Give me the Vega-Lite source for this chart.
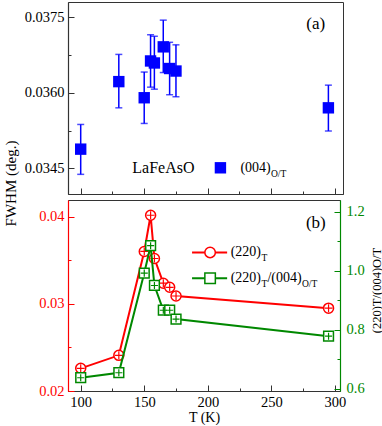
{
  "$schema": "https://vega.github.io/schema/vega-lite/v6.json",
  "padding": {"left": 2, "top": 1, "right": 0, "bottom": 0},
  "spacing": 6,
  "bounds": "flush",
  "background": "white",
  "config": {
    "font": "Liberation Serif",
    "view": {"stroke": "#333333", "strokeWidth": 1},
    "axis": {"grid": false, "labelFont": "Liberation Serif", "titleFont": "Liberation Serif", "labelFontSize": 14.5, "titleFontSize": 15, "titleFontWeight": "normal", "labelColor": "#000000", "titleColor": "#000000", "domainColor": "#333333", "tickColor": "#333333", "tickWidth": 1, "domainWidth": 1.2, "labelOverlap": false, "labelBound": false, "labelFlush": false},
    "text": {"font": "Liberation Serif"}
  },
  "datasets": {
    "top": [
      {"T": 100, "v": 0.03488, "lo": 0.03438, "hi": 0.03537},
      {"T": 130, "v": 0.03622, "lo": 0.03570, "hi": 0.03676},
      {"T": 150, "v": 0.03590, "lo": 0.03539, "hi": 0.03641},
      {"T": 155, "v": 0.03663, "lo": 0.03611, "hi": 0.03715},
      {"T": 158, "v": 0.03659, "lo": 0.03607, "hi": 0.03712},
      {"T": 165, "v": 0.03691, "lo": 0.03640, "hi": 0.03744},
      {"T": 170, "v": 0.03648, "lo": 0.03596, "hi": 0.03700},
      {"T": 175, "v": 0.03643, "lo": 0.03592, "hi": 0.03695},
      {"T": 295, "v": 0.03570, "lo": 0.03524, "hi": 0.03615}
    ],
    "red": [
      {"T": 100, "v": 0.02260},
      {"T": 130, "v": 0.02409},
      {"T": 150, "v": 0.03600},
      {"T": 155, "v": 0.04015},
      {"T": 158, "v": 0.03519},
      {"T": 165, "v": 0.03236},
      {"T": 170, "v": 0.03189},
      {"T": 175, "v": 0.03089},
      {"T": 295, "v": 0.02950}
    ],
    "green": [
      {"T": 100, "r": 0.637},
      {"T": 130, "r": 0.654},
      {"T": 150, "r": 0.992},
      {"T": 155, "r": 1.085},
      {"T": 158, "r": 0.950},
      {"T": 165, "r": 0.866},
      {"T": 170, "r": 0.866},
      {"T": 175, "r": 0.836},
      {"T": 295, "r": 0.778}
    ],
    "legA": [{"T": 210, "v": 0.03451, "name": "LaFeAsO", "t1": "(004)", "s1": "O/T"}],
    "tagA": [{"T": 285, "v": 0.03737, "label": "(a)"}],
    "legB": [
      {"series": "a", "x1": 187.6, "x2": 215.2, "xm": 201.8, "v": 0.03589, "t1": "(220)", "s1": "T", "t2": "", "s2": ""},
      {"series": "b", "x1": 187.6, "x2": 215.2, "xm": 201.8, "v": 0.03292, "t1": "(220)", "s1": "T", "t2": "/(004)", "s2": "O/T"}
    ],
    "tagB": [{"T": 285, "v": 0.0393, "label": "(b)"}]
  },
  "vconcat": [
    {
      "width": 275,
      "height": 192,
      "encoding": {
        "x": {"field": "T", "type": "quantitative", "scale": {"domain": [90, 306.5], "nice": false, "zero": false},
              "axis": {"title": null, "values": [100, 125, 150, 175, 200, 225, 250, 275, 300], "labels": false,
                       "tickSize": {"condition": {"test": "datum.value % 50 === 0", "value": -6}, "value": -3}}},
        "y": {"field": "v", "type": "quantitative", "scale": {"domain": [0.03399, 0.0378], "nice": false, "zero": false},
              "axis": {"title": "FWHM (deg.)", "values": [0.0345, 0.03525, 0.036, 0.03675, 0.0375], "format": ".4f",
                       "labelExpr": "abs(datum.value/0.0015 - round(datum.value/0.0015)) < 0.01 ? datum.label : ''",
                       "tickSize": {"condition": {"test": "abs(datum.value/0.0015 - round(datum.value/0.0015)) < 0.01", "value": -6}, "value": -3},
                       "labelPadding": 10, "titleAngle": 270, "titleX": -53, "titleY": 181, "titleBaseline": "alphabetic", "titleAlign": "center", "titleFontSize": 15}}
      },
      "layer": [
        {"data": {"name": "top"},
         "mark": {"type": "errorbar", "color": "#0000ff", "thickness": 1.5, "size": 7, "ticks": true},
         "encoding": {
           "y": {"field": "lo", "type": "quantitative", "scale": {"domain": [0.03399, 0.0378], "nice": false, "zero": false},
                 "axis": {"title": "FWHM (deg.)", "values": [0.0345, 0.03525, 0.036, 0.03675, 0.0375], "format": ".4f",
                          "labelExpr": "abs(datum.value/0.0015 - round(datum.value/0.0015)) < 0.01 ? datum.label : ''",
                          "tickSize": {"condition": {"test": "abs(datum.value/0.0015 - round(datum.value/0.0015)) < 0.01", "value": -6}, "value": -3},
                          "labelPadding": 10, "titleAngle": 270, "titleX": -53, "titleY": 181, "titleBaseline": "alphabetic", "titleAlign": "center", "titleFontSize": 15}},
           "y2": {"field": "hi"}
         }},
        {"data": {"name": "top"}, "mark": {"type": "point", "shape": "square", "filled": true, "size": 130, "color": "#0000ff", "opacity": 1}},
        {"data": {"name": "legA"}, "mark": {"type": "point", "shape": "square", "filled": true, "size": 130, "color": "#0000ff", "opacity": 1}},
        {"data": {"name": "legA"}, "mark": {"type": "text", "align": "center", "baseline": "middle", "dx": -57, "fontSize": 16}, "encoding": {"text": {"field": "name"}}},
        {"data": {"name": "legA"}, "mark": {"type": "text", "align": "left", "baseline": "middle", "dx": 20, "fontSize": 14}, "encoding": {"text": {"field": "t1"}}},
        {"data": {"name": "legA"}, "mark": {"type": "text", "align": "left", "baseline": "middle", "dx": 50.5, "dy": 6, "fontSize": 9.5}, "encoding": {"text": {"field": "s1"}}},
        {"data": {"name": "tagA"}, "mark": {"type": "text", "align": "center", "baseline": "middle", "fontSize": 17}, "encoding": {"text": {"field": "label"}}}
      ]
    },
    {
      "width": 272,
      "height": 191,
      "resolve": {"scale": {"y": "independent"}},
      "layer": [
        {
          "encoding": {
            "x": {"field": "T", "type": "quantitative", "scale": {"domain": [90, 304], "nice": false, "zero": false},
                  "axis": {"title": "T (K)", "values": [100, 125, 150, 175, 200, 225, 250, 275, 300],
                           "labelExpr": "datum.value % 50 === 0 ? datum.label : ''",
                           "tickSize": {"condition": {"test": "datum.value % 50 === 0", "value": -6}, "value": -3},
                           "labelPadding": 10, "titleBaseline": "alphabetic", "titleY": 30.5, "titleFontSize": 14}},
            "y": {"field": "v", "type": "quantitative", "scale": {"domain": [0.02, 0.0419], "nice": false, "zero": false},
                  "axis": {"orient": "left", "title": null, "values": [0.02, 0.025, 0.03, 0.035, 0.04], "format": ".2f",
                           "labelExpr": "abs(datum.value*100 - round(datum.value*100)) < 0.01 ? datum.label : ''",
                           "tickSize": {"condition": {"test": "abs(datum.value*100 - round(datum.value*100)) < 0.01", "value": -6}, "value": -3},
                           "labelPadding": 10, "labelColor": "#ff0000", "domainColor": "#ff0000", "tickColor": "#ff0000"}}
          },
          "layer": [
            {"data": {"name": "red"}, "mark": {"type": "line", "color": "#ff0000", "strokeWidth": 2}},
            {"data": {"name": "red"}, "mark": {"type": "point", "shape": "circle", "size": 100, "filled": true, "fill": "#ffffff", "stroke": "#ff0000", "strokeWidth": 1.5, "opacity": 1}},
            {"data": {"name": "red"}, "mark": {"type": "point", "shape": "M-1,0H1M0,-1V1", "size": 64, "filled": false, "stroke": "#ff0000", "strokeWidth": 1.2, "opacity": 1}},
            {"data": {"name": "legB"}, "mark": {"type": "rule", "strokeWidth": 2},
             "encoding": {
               "x": {"field": "x1", "type": "quantitative", "scale": {"domain": [90, 304], "nice": false, "zero": false},
                     "axis": {"title": "T (K)", "values": [100, 125, 150, 175, 200, 225, 250, 275, 300],
                              "labelExpr": "datum.value % 50 === 0 ? datum.label : ''",
                              "tickSize": {"condition": {"test": "datum.value % 50 === 0", "value": -6}, "value": -3},
                              "labelPadding": 10, "titleBaseline": "alphabetic", "titleY": 30.5, "titleFontSize": 14}},
               "x2": {"field": "x2"},
               "color": {"field": "series", "type": "nominal", "scale": {"domain": ["a", "b"], "range": ["#ff0000", "#008800"]}, "legend": null}
             }},
            {"data": {"name": "legB"}, "mark": {"type": "point", "filled": true, "fill": "#ffffff", "size": 110, "strokeWidth": 1.5, "opacity": 1},
             "encoding": {
               "x": {"field": "xm", "type": "quantitative", "scale": {"domain": [90, 304], "nice": false, "zero": false},
                     "axis": {"title": "T (K)", "values": [100, 125, 150, 175, 200, 225, 250, 275, 300],
                              "labelExpr": "datum.value % 50 === 0 ? datum.label : ''",
                              "tickSize": {"condition": {"test": "datum.value % 50 === 0", "value": -6}, "value": -3},
                              "labelPadding": 10, "titleBaseline": "alphabetic", "titleY": 30.5, "titleFontSize": 14}},
               "stroke": {"field": "series", "type": "nominal", "scale": {"domain": ["a", "b"], "range": ["#ff0000", "#008800"]}, "legend": null},
               "shape": {"field": "series", "type": "nominal", "scale": {"domain": ["a", "b"], "range": ["circle", "square"]}, "legend": null}
             }},
            {"data": {"name": "legB"}, "mark": {"type": "text", "align": "left", "baseline": "middle", "dx": 3.5, "fontSize": 14},
             "encoding": {"x": {"field": "x2", "type": "quantitative", "scale": {"domain": [90, 304], "nice": false, "zero": false},
                     "axis": {"title": "T (K)", "values": [100, 125, 150, 175, 200, 225, 250, 275, 300],
                              "labelExpr": "datum.value % 50 === 0 ? datum.label : ''",
                              "tickSize": {"condition": {"test": "datum.value % 50 === 0", "value": -6}, "value": -3},
                              "labelPadding": 10, "titleBaseline": "alphabetic", "titleY": 30.5, "titleFontSize": 14}}, "text": {"field": "t1"}}},
            {"data": {"name": "legB"}, "mark": {"type": "text", "align": "left", "baseline": "middle", "dx": 34.3, "dy": 6, "fontSize": 9.5},
             "encoding": {"x": {"field": "x2", "type": "quantitative", "scale": {"domain": [90, 304], "nice": false, "zero": false},
                     "axis": {"title": "T (K)", "values": [100, 125, 150, 175, 200, 225, 250, 275, 300],
                              "labelExpr": "datum.value % 50 === 0 ? datum.label : ''",
                              "tickSize": {"condition": {"test": "datum.value % 50 === 0", "value": -6}, "value": -3},
                              "labelPadding": 10, "titleBaseline": "alphabetic", "titleY": 30.5, "titleFontSize": 14}}, "text": {"field": "s1"}}},
            {"data": {"name": "legB"}, "mark": {"type": "text", "align": "left", "baseline": "middle", "dx": 40.3, "fontSize": 14},
             "encoding": {"x": {"field": "x2", "type": "quantitative", "scale": {"domain": [90, 304], "nice": false, "zero": false},
                     "axis": {"title": "T (K)", "values": [100, 125, 150, 175, 200, 225, 250, 275, 300],
                              "labelExpr": "datum.value % 50 === 0 ? datum.label : ''",
                              "tickSize": {"condition": {"test": "datum.value % 50 === 0", "value": -6}, "value": -3},
                              "labelPadding": 10, "titleBaseline": "alphabetic", "titleY": 30.5, "titleFontSize": 14}}, "text": {"field": "t2"}}},
            {"data": {"name": "legB"}, "mark": {"type": "text", "align": "left", "baseline": "middle", "dx": 74.8, "dy": 6, "fontSize": 9.5},
             "encoding": {"x": {"field": "x2", "type": "quantitative", "scale": {"domain": [90, 304], "nice": false, "zero": false},
                     "axis": {"title": "T (K)", "values": [100, 125, 150, 175, 200, 225, 250, 275, 300],
                              "labelExpr": "datum.value % 50 === 0 ? datum.label : ''",
                              "tickSize": {"condition": {"test": "datum.value % 50 === 0", "value": -6}, "value": -3},
                              "labelPadding": 10, "titleBaseline": "alphabetic", "titleY": 30.5, "titleFontSize": 14}}, "text": {"field": "s2"}}},
            {"data": {"name": "tagB"}, "mark": {"type": "text", "align": "center", "baseline": "middle", "fontSize": 17}, "encoding": {"text": {"field": "label"}}}
          ]
        },
        {
          "encoding": {
            "x": {"field": "T", "type": "quantitative", "scale": {"domain": [90, 304], "nice": false, "zero": false},
                  "axis": {"title": "T (K)", "values": [100, 125, 150, 175, 200, 225, 250, 275, 300],
                           "labelExpr": "datum.value % 50 === 0 ? datum.label : ''",
                           "tickSize": {"condition": {"test": "datum.value % 50 === 0", "value": -6}, "value": -3},
                           "labelPadding": 10, "titleBaseline": "alphabetic", "titleY": 30.5, "titleFontSize": 14}},
            "y": {"field": "r", "type": "quantitative", "scale": {"domain": [0.592, 1.24], "nice": false, "zero": false},
                  "axis": {"orient": "right", "title": "(220)T/(004)O/T", "values": [0.6, 0.7, 0.8, 0.9, 1.0, 1.1, 1.2], "format": ".1f",
                           "labelExpr": "abs(datum.value*5 - round(datum.value*5)) < 0.01 ? datum.label : ''",
                           "tickSize": {"condition": {"test": "abs(datum.value*5 - round(datum.value*5)) < 0.01", "value": -6}, "value": -3},
                           "labelPadding": 12, "labelColor": "#008800", "domainColor": "#008800", "tickColor": "#008800",
                           "titleAngle": 270, "titleX": 40, "titleY": 90, "titleBaseline": "alphabetic", "titleAlign": "center", "titleFontSize": 12.5}}
          },
          "layer": [
            {"data": {"name": "green"}, "mark": {"type": "line", "color": "#008800", "strokeWidth": 2}},
            {"data": {"name": "green"}, "mark": {"type": "point", "shape": "square", "size": 95, "filled": true, "fill": "#ffffff", "stroke": "#008800", "strokeWidth": 1.5, "opacity": 1}},
            {"data": {"name": "green"}, "mark": {"type": "point", "shape": "M-1,0H1M0,-1V1", "size": 50, "filled": false, "stroke": "#008800", "strokeWidth": 1.2, "opacity": 1}}
          ]
        }
      ]
    }
  ]
}
